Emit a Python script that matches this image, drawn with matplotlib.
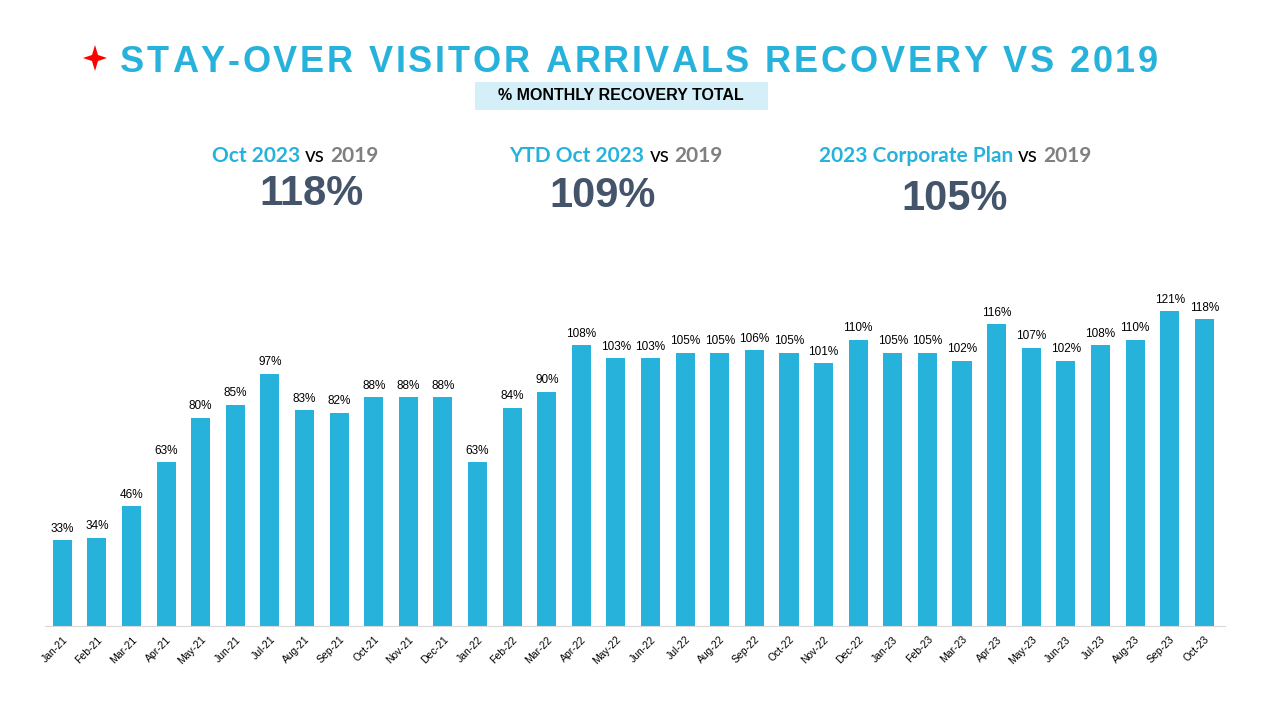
import matplotlib
matplotlib.use('Agg')
import matplotlib.pyplot as plt
from matplotlib import font_manager
from matplotlib.ft2font import FT2Font
from matplotlib.patches import Rectangle, Polygon

W, H = 1280, 720

months = ['Jan-21', 'Feb-21', 'Mar-21', 'Apr-21', 'May-21', 'Jun-21', 'Jul-21', 'Aug-21',
          'Sep-21', 'Oct-21', 'Nov-21', 'Dec-21', 'Jan-22', 'Feb-22', 'Mar-22', 'Apr-22',
          'May-22', 'Jun-22', 'Jul-22', 'Aug-22', 'Sep-22', 'Oct-22', 'Nov-22', 'Dec-22',
          'Jan-23', 'Feb-23', 'Mar-23', 'Apr-23', 'May-23', 'Jun-23', 'Jul-23', 'Aug-23',
          'Sep-23', 'Oct-23']
recovery = [33, 34, 46, 63, 80, 85, 97, 83, 82, 88, 88, 88, 63, 84, 90, 108,
            103, 103, 105, 105, 106, 105, 101, 110, 105, 105, 102, 116, 107, 102, 108, 110,
            121, 118]

kpi_heads = [['Oct 2023', 'vs', '2019'],
             ['YTD Oct 2023', 'vs', '2019'],
             ['2023 Corporate Plan', 'vs', '2019']]
kpi_values = ['118%', '109%', '105%']

BLUE = '#27B2DC'
NAVY = '#44546A'
GREY = '#808080'


def fx(x):
    return x / W


def fy(y):
    return 1 - y / H


fig = plt.figure(figsize=(12.8, 7.2), dpi=100)
renderer = fig.canvas.get_renderer()

# title with wide letter spacing, laid out char by char
title = 'STAY-OVER VISITOR ARRIVALS RECOVERY VS 2019'
tsize = 26
fp = font_manager.FontProperties(family='Liberation Sans', weight='bold')
font = FT2Font(font_manager.findfont(fp))
font.set_size(tsize, 100)
adv = [font.load_char(ord(c)).linearHoriAdvance / 65536 for c in title]
x0, x1 = 120, 1158
gap = ((x1 - x0) - sum(adv)) / (len(title) - 1)
x = x0
for c, a in zip(title, adv):
    fig.text(fx(x), fy(72), c, fontsize=tsize, color=BLUE, fontweight='bold',
             family='Liberation Sans', ha='left', va='baseline')
    x += a + gap

# red four-pointed star
sx, sy, ro, ri = 95, 58, 13, 3
star = [(sx, sy - ro), (sx + ri, sy - ri), (sx + ro - 1, sy), (sx + ri, sy + ri),
        (sx, sy + ro), (sx - ri, sy + ri), (sx - ro + 1, sy), (sx - ri, sy - ri)]
fig.patches.append(Polygon([(fx(a), fy(b)) for a, b in star], closed=True,
                           transform=fig.transFigure, facecolor='#FF0000',
                           edgecolor='none'))

# subtitle box
fig.patches.append(Rectangle((fx(475), fy(110)), (768 - 475) / W, 28 / H,
                             transform=fig.transFigure, facecolor='#D5EFF9',
                             edgecolor='none'))
fig.text(fx(621), fy(96), '% MONTHLY RECOVERY TOTAL', fontsize=11.5, fontweight='bold',
         family=['Liberation Sans Narrow', 'Liberation Sans'], color='black',
         ha='center', va='center')

# KPI headers (three-colour runs) and values
head_x = [295, 616, 955]
head_y = 162
val_x = [311, 603, 955]
val_y = [205, 207, 210]
run_colors = [BLUE, 'black', GREY]
run_weights = ['bold', 'normal', 'bold']
for parts, cx in zip(kpi_heads, head_x):
    texts = [fig.text(0, fy(head_y), p, fontsize=15, fontweight=wt, family='Lato',
                      color=col, ha='left', va='baseline')
             for p, col, wt in zip(parts, run_colors, run_weights)]
    widths = [t.get_window_extent(renderer).width for t in texts]
    sep = 5
    total = sum(widths) + sep * (len(widths) - 1)
    x = cx - total / 2
    for t, w in zip(texts, widths):
        t.set_x(fx(x))
        x += w + sep

for v, cx, cy in zip(kpi_values, val_x, val_y):
    fig.text(fx(cx), fy(cy), v, fontsize=30, fontweight='bold', family='Liberation Sans',
             color=NAVY, ha='center', va='baseline')

# bar chart
ax = fig.add_axes([fx(45), fy(626), (1225 - 45) / W, (626 - 288) / H])
pos = list(range(len(months)))
bars = ax.bar(pos, recovery, width=0.55, color=BLUE)
for b, v in zip(bars, recovery):
    ax.annotate(f'{v}%', (b.get_x() + b.get_width() / 2, v), xytext=(0, 4),
                textcoords='offset points', ha='center', va='bottom', fontsize=8.5,
                family='Liberation Sans', color='black')
ax.set_xlim(-0.5, 33.6)
ax.set_ylim(0, 130)
ax.set_xticks(pos)
ax.set_xticklabels(months, rotation=45, ha='right', rotation_mode='anchor',
                   fontsize=7.5, family='Liberation Sans')
ax.tick_params(axis='x', length=0, pad=6)
ax.set_yticks([])
for s in ['top', 'right', 'left']:
    ax.spines[s].set_visible(False)
ax.spines['bottom'].set_color('#D9D9D9')

fig.savefig('out.png', dpi=100)
